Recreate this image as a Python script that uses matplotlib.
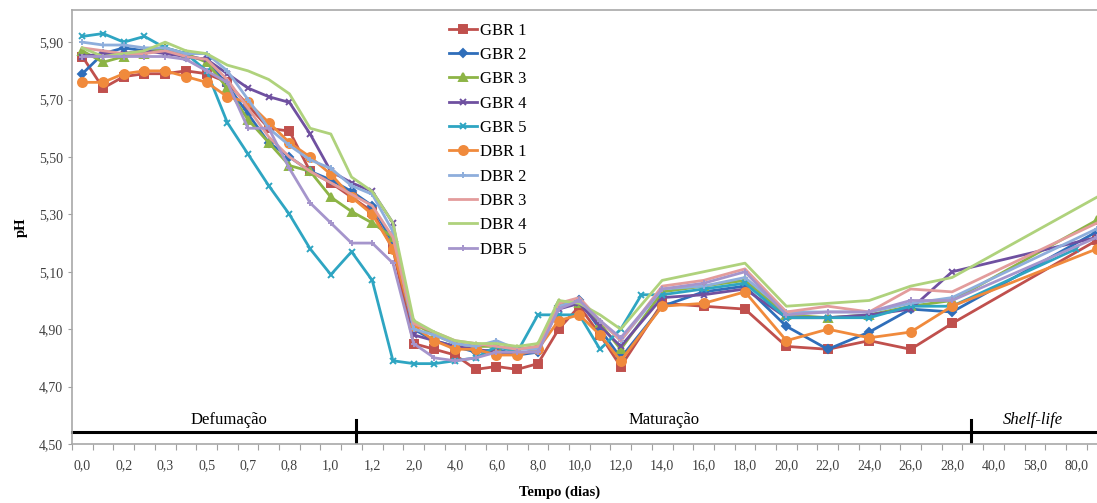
import matplotlib
matplotlib.use('Agg')
import matplotlib.pyplot as plt
import numpy as np

# categorias do eixo x (tempo em dias); '' = categoria sem rótulo visível
tempo_dias = ['0,0', '', '0,2', '', '0,3', '', '0,5', '', '0,7', '', '0,8', '', '1,0', '', '1,2', '',
              '2,0', '', '4,0', '', '6,0', '', '8,0', '', '10,0', '', '12,0', '', '14,0', '', '16,0', '',
              '18,0', '', '20,0', '', '22,0', '', '24,0', '', '26,0', '', '28,0', '', '40,0', '', '58,0', '',
              '80,0', '']

N = None
gbr1 = [5.85, 5.74, 5.78, 5.79, 5.79, 5.80, 5.79, 5.76, 5.68, 5.60, 5.59, 5.45, 5.41, 5.36, 5.31, 5.18,
        4.85, 4.83, 4.81, 4.76, 4.77, 4.76, 4.78, 4.90, 4.98, 4.88, 4.77, N, 4.99, N, 4.98, N,
        4.97, N, 4.84, N, 4.83, N, 4.86, N, 4.83, N, 4.92, N, N, N, N, N, N, 5.21]
gbr2 = [5.79, 5.86, 5.88, 5.87, 5.87, 5.85, 5.84, 5.75, 5.65, 5.55, 5.50, 5.45, 5.42, 5.38, 5.33, 5.20,
        4.90, 4.86, 4.84, 4.82, 4.83, 4.81, 4.82, 4.98, 5.00, 4.90, 4.80, N, 4.98, N, 5.03, N,
        5.05, N, 4.91, N, 4.83, N, 4.89, N, 4.97, N, 4.96, N, N, N, N, N, N, 5.24]
gbr3 = [5.87, 5.83, 5.85, 5.86, 5.88, 5.86, 5.83, 5.74, 5.63, 5.55, 5.47, 5.45, 5.36, 5.31, 5.27, 5.22,
        4.92, 4.88, 4.85, 4.84, 4.84, 4.83, 4.84, 4.99, 4.99, 4.92, 4.83, N, 5.03, N, 5.05, N,
        5.07, N, 4.95, N, 4.94, N, 4.95, N, 4.98, N, 5.00, N, N, N, N, N, N, 5.28]
gbr4 = [5.85, 5.86, 5.86, 5.87, 5.86, 5.85, 5.84, 5.79, 5.74, 5.71, 5.69, 5.58, 5.45, 5.41, 5.38, 5.27,
        4.88, 4.86, 4.84, 4.83, 4.82, 4.81, 4.83, 4.97, 4.99, 4.91, 4.84, N, 5.01, N, 5.02, N,
        5.04, N, 4.94, N, 4.94, N, 4.95, N, 4.97, N, 5.10, N, N, N, N, N, N, 5.22]
gbr5 = [5.92, 5.93, 5.90, 5.92, 5.88, 5.86, 5.80, 5.62, 5.51, 5.40, 5.30, 5.18, 5.09, 5.17, 5.07, 4.79,
        4.78, 4.78, 4.79, 4.80, 4.84, 4.82, 4.95, 4.95, 4.95, 4.83, 4.90, 5.02, 5.02, N, 5.04, N,
        5.06, N, 4.94, N, 4.94, N, 4.94, N, 4.98, N, 4.98, N, N, N, N, N, 5.18, N]
dbr1 = [5.76, 5.76, 5.79, 5.80, 5.80, 5.78, 5.76, 5.71, 5.69, 5.62, 5.55, 5.50, 5.44, 5.36, 5.30, 5.18,
        4.91, 4.86, 4.83, 4.83, 4.81, 4.81, 4.83, 4.93, 4.95, 4.88, 4.79, N, 4.98, N, 4.99, N,
        5.03, N, 4.86, N, 4.90, N, 4.87, N, 4.89, N, 4.98, N, N, N, N, N, N, 5.18]
dbr2 = [5.90, 5.89, 5.89, 5.88, 5.88, 5.86, 5.86, 5.80, 5.70, 5.60, 5.54, 5.49, 5.46, 5.40, 5.37, 5.24,
        4.90, 4.88, 4.85, 4.84, 4.86, 4.83, 4.83, 4.98, 5.00, 4.93, 4.86, N, 5.04, N, 5.05, N,
        5.08, N, 4.96, N, 4.96, N, 4.96, N, 4.99, N, 5.01, N, N, N, N, N, N, 5.25]
dbr3 = [5.88, 5.87, 5.86, 5.86, 5.87, 5.85, 5.84, 5.77, 5.67, 5.57, 5.50, 5.45, 5.41, 5.37, 5.33, 5.22,
        4.92, 4.89, 4.86, 4.85, 4.84, 4.83, 4.84, 4.99, 5.01, 4.93, 4.86, N, 5.05, N, 5.07, N,
        5.11, N, 4.96, N, 4.98, N, 4.96, N, 5.04, N, 5.03, N, N, N, N, N, N, 5.27]
dbr4 = [5.88, 5.85, 5.86, 5.87, 5.90, 5.87, 5.86, 5.82, 5.80, 5.77, 5.72, 5.60, 5.58, 5.43, 5.38, 5.27,
        4.93, 4.89, 4.86, 4.85, 4.85, 4.84, 4.85, 5.00, 4.99, 4.95, 4.90, N, 5.07, N, 5.10, N,
        5.13, N, 4.98, N, 4.99, N, 5.00, N, 5.05, N, 5.08, N, N, N, N, N, N, 5.36]
dbr5 = [5.85, 5.85, 5.85, 5.85, 5.85, 5.84, 5.80, 5.76, 5.60, 5.60, 5.46, 5.34, 5.27, 5.20, 5.20, 5.13,
        4.85, 4.80, 4.79, 4.80, 4.82, 4.82, 4.82, 4.97, 5.00, 4.93, 4.87, N, 5.04, N, 5.06, N,
        5.10, N, 4.95, N, 4.96, N, 4.96, N, 5.00, N, 5.00, N, N, N, N, N, N, 5.22]

nomes = ['GBR 1', 'GBR 2', 'GBR 3', 'GBR 4', 'GBR 5', 'DBR 1', 'DBR 2', 'DBR 3', 'DBR 4', 'DBR 5']
series = [gbr1, gbr2, gbr3, gbr4, gbr5, dbr1, dbr2, dbr3, dbr4, dbr5]

fases = ['Defumação', 'Maturação', 'Shelf-life']

cores = ['#C0504D', '#2F6EBA', '#8DB446', '#6F50A0', '#2EA5C2',
         '#F08A3C', '#8EAEDC', '#E39C9C', '#AFD27C', '#A595CC']
marcadores = ['s', 'D', '^', 'x', 'x', 'o', '+', '', '', '+']
tam_marc = [5.5, 4, 5.5, 5, 4.5, 6.5, 5, 0, 0, 5]

plt.rcParams['font.family'] = ['Liberation Serif', 'DejaVu Serif']

fig = plt.figure(figsize=(10.97, 5.03), dpi=100)
ax = fig.add_axes([72 / 1097, 59 / 503, 1025 / 1097, 434 / 503])

for nome, vals, cor, mk, ms in zip(nomes, series, cores, marcadores, tam_marc):
    x = [i for i, v in enumerate(vals) if v is not None]
    y = [v for v in vals if v is not None]
    ax.plot(x, y, color=cor, linewidth=2.0, marker=mk if mk else None, markersize=ms,
            markeredgewidth=1.4, label=nome)

ax.set_xlim(-0.5, 49.0)
ax.set_ylim(4.5, 6.012)

# eixo x: marcas entre categorias, rótulos a cada duas categorias
ax.set_xticks(np.arange(-0.5, 49.0, 1.0))
ax.set_xticklabels([])
idx_rot = [i for i, t in enumerate(tempo_dias) if t]
ax.set_xticks(idx_rot, minor=True)
ax.set_xticklabels([tempo_dias[i] for i in idx_rot], minor=True, fontsize=10)
ax.tick_params(axis='x', which='major', length=4, color='#A0A0A0', direction='out')
ax.tick_params(axis='x', which='minor', length=0, pad=11, colors='#404040')

yt = np.arange(4.5, 5.95, 0.2)
ax.set_yticks(yt)
ax.set_yticklabels([f'{v:.2f}'.replace('.', ',') for v in yt], fontsize=10, color='#404040')
ax.tick_params(axis='y', length=3, color='#A0A0A0', direction='out')

for s in ['left', 'top', 'bottom']:
    ax.spines[s].set_color('#A8A8A8')
    ax.spines[s].set_linewidth(1.2)
ax.spines['right'].set_visible(False)

ax.set_ylabel('pH', fontsize=10.5, fontweight='bold', labelpad=8)
ax.set_xlabel('Tempo (dias)', fontsize=10.5, fontweight='bold')
ax.xaxis.set_label_coords((560 - 72) / 1025, -0.095)

# barra das fases
y_barra = 4.542
ax.plot([-0.5, 49.0], [y_barra, y_barra], color='black', linewidth=2.2, clip_on=False)
for xd in [13.2, 42.9]:
    ax.plot([xd, xd], [4.505, 4.585], color='black', linewidth=2.2)
ax.text(7.1, 4.556, fases[0], ha='center', va='bottom', fontsize=12)
ax.text(28.1, 4.556, fases[1], ha='center', va='bottom', fontsize=12)
ax.text(45.9, 4.556, fases[2], ha='center', va='bottom', fontsize=12, style='italic')

ax.legend(loc='upper left', bbox_to_anchor=(442 / 1097, 1 - 16 / 503), bbox_transform=fig.transFigure,
          frameon=False, fontsize=12, handlelength=1.7, handletextpad=0.15, labelspacing=0.5,
          borderaxespad=0)

fig.savefig('out.png', dpi=100)
